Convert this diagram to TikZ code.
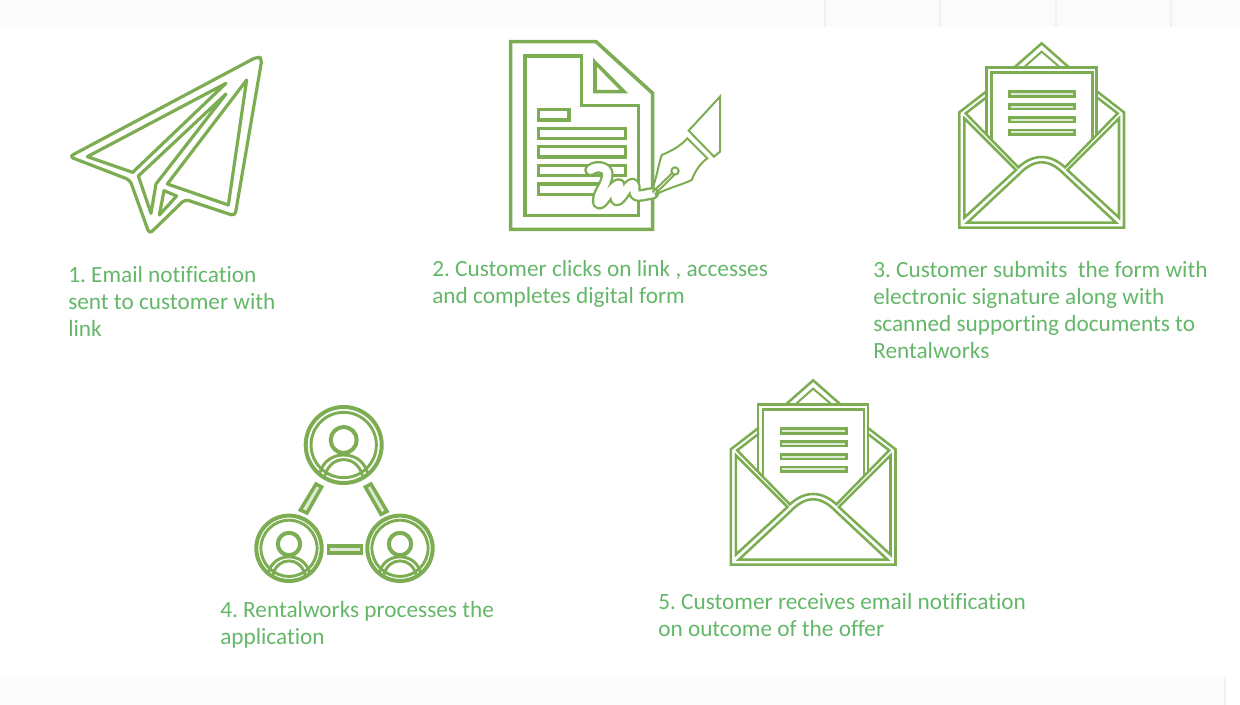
\documentclass[tikz,border=0pt]{standalone}
\usepackage{fontspec}
\setmainfont{Carlito}[Ligatures=NoCommon]
\definecolor{icon}{HTML}{7DAD52}
\definecolor{label}{HTML}{64B769}
\definecolor{strip}{HTML}{FBFBFB}
\definecolor{rule}{HTML}{F1F1F1}
\definecolor{pale}{HTML}{DDE9D2}
\tikzset{
  stepicon/.style={draw=icon,line width=2.4pt,line join=round,fill=none},
  thinicon/.style={draw=icon,line width=1.9pt,line join=miter,fill=none},
  fineicon/.style={draw=icon,line width=1.5pt,line join=miter,fill=none},
  barbox/.style={draw=icon,line width=2.5pt,fill=white},
  linkbar/.style={draw=icon,line width=2.6pt,fill=pale},
  steptext/.style={anchor=north west,inner sep=0pt,align=left,text=label,font=\fontsize{17.45}{20.25}\selectfont\frenchspacing},
}
\newcommand{\envelopeicon}[2]{%
\begin{scope}[shift={(#1,#2)},x=0.25pt,y=-0.25pt]
  \draw[thinicon] (190,100)--(275,25)--(360,100);
  \draw[fineicon] (222,97)--(275,50)--(330,97);
  \draw[thinicon] (110,300)--(110,98)--(440,98)--(440,300);
  \draw[thinicon] (125,314)--(125,112)--(428,112)--(428,314);
  \foreach \yy in {177,215,254,292}{\draw[barbox,line width=2pt,fill=pale] (178,\yy-7) rectangle (374,\yy+7);}
  \draw[thinicon] (112,167)--(28,232)--(28,578)--(522,578)--(522,232)--(438,167);
  \draw[thinicon] (112,185)--(47,235)--(205,397) .. controls (228,376) and (252,366) .. (275,366) .. controls (298,366) and (322,376) .. (345,397)--(503,235)--(438,185);
  \draw[thinicon] (43,250)--(43,548)--(198,405)--cycle;
  \draw[thinicon] (507,250)--(507,548)--(352,405)--cycle;
  \draw[thinicon] (52,563)--(207,418) .. controls (230,394) and (252,382) .. (275,382) .. controls (298,382) and (320,394) .. (343,418)--(498,563)--cycle;
\end{scope}}
\newcommand{\personicon}[3]{%
\begin{scope}[shift={(#1,#2)},x=0.25pt,y=-0.25pt,scale=#3]
  \draw[draw=icon,line width=3pt] (0,0) circle (114);
  \draw[draw=icon,line width=2.2pt] (0,0) circle (98);
  \draw[draw=icon,line width=3pt] (0,-15) circle (39);
  \draw[draw=icon,line width=2.2pt] (-72,84) .. controls (-60,45) and (-30,30) .. (0,30) .. controls (30,30) and (60,45) .. (72,84);
  \draw[draw=icon,line width=2.2pt] (-56,92) .. controls (-48,60) and (-25,44) .. (0,44) .. controls (25,44) and (48,60) .. (56,92);
\end{scope}}
\begin{document}
\begin{tikzpicture}[x=0.75pt,y=-0.75pt]
\useasboundingbox (0,0) rectangle (1240,705);
% faint strips along top and bottom
\fill[strip] (0,0) rectangle (1240,27);
\fill[strip] (0,677) rectangle (1226,705);
\foreach \xx in {825,940,1056,1171}{\draw[rule,line width=0.8pt] (\xx,0)--(\xx,27);}
\draw[rule,line width=1.2pt] (1225,677)--(1225,705);
% 1 paper plane
\begin{scope}[shift={(50,40)},x=0.25pt,y=-0.25pt]
  \draw[stepicon,rounded corners=3pt] (622,50)--(58,350)--(240,420)--(298,582)--(405,478)--(555,528)--(636,56)--cycle;
  \draw[stepicon] (528,130)--(112,350)--(248,397)--cycle;
  \draw[stepicon] (528,162)--(265,408)--(303,520)--(318,432)--cycle;
  \draw[stepicon] (342,452)--(380,468)--(328,525)--cycle;
  \draw[stepicon] (590,120)--(352,432)--(535,495)--cycle;
\end{scope}
% 2 document and pen
\begin{scope}[shift={(500,30)},x=0.25pt,y=-0.25pt]
  \draw[stepicon,line width=2.7pt,line join=miter] (32,35)--(288,35)--(458,190)--(458,598)--(32,598)--cycle;
  \draw[stepicon,line width=2.7pt,line join=miter] (75,78)--(245,78)--(245,227)--(416,227)--(416,557)--(75,557)--cycle;
  \draw[stepicon,line width=2.7pt,line join=miter] (285,97)--(372,185)--(285,185)--cycle;
  \draw[barbox] (115,238) rectangle (207,270);
  \draw[barbox] (115,295) rectangle (377,325);
  \draw[barbox] (115,350) rectangle (377,381);
  \draw[barbox] (115,406) rectangle (377,437);
  \draw[barbox] (115,462) rectangle (377,494);
  \fill[white] (302,455) rectangle (382,500);
  \draw[draw=icon,line width=9.5pt,line cap=round,line join=round] (272,420) .. controls (290,405) and (322,412) .. (322,432) .. controls (322,465) and (290,490) .. (295,518) .. controls (305,530) and (325,480) .. (352,465) .. controls (372,455) and (335,505) .. (350,510) .. controls (365,510) and (380,465) .. (398,462) .. controls (410,462) and (395,495) .. (412,497) .. controls (430,497) and (440,492) .. (458,490);
  \draw[draw=white,line width=6pt,line cap=round,line join=round] (272,420) .. controls (290,405) and (322,412) .. (322,432) .. controls (322,465) and (290,490) .. (295,518) .. controls (305,530) and (325,480) .. (352,465) .. controls (372,455) and (335,505) .. (350,510) .. controls (365,510) and (380,465) .. (398,462) .. controls (410,462) and (395,495) .. (412,497) .. controls (430,497) and (440,492) .. (458,490);
  \draw[fineicon] (456,478) .. controls (470,445) and (475,405) .. (485,375) .. controls (510,365) and (540,350) .. (562,325)--(622,385) .. controls (600,400) and (585,425) .. (575,450) .. controls (545,465) and (500,475) .. (465,495);
  \draw[fineicon] (660,200)--(566,302)--(642,380)--(660,365)--cycle;
  \draw[fineicon] (525,423) circle (11);
  \draw[fineicon] (457,487)--(515,431);
  \draw[fineicon] (465,493)--(523,435);
\end{scope}
% 3 and 5 envelopes
\envelopeicon{950}{35}
\envelopeicon{721.5}{372}
% 4 people
\personicon{343.7}{445}{1}
\personicon{289}{548.3}{0.86}
\personicon{400}{548.3}{0.86}
\begin{scope}[shift={(245,395)},x=0.25pt,y=-0.25pt]
  \draw[linkbar] (213,267)--(230,276)--(186,354)--(166,345)--cycle;
  \draw[linkbar] (378,267)--(361,276)--(408,358)--(426,349)--cycle;
  \draw[linkbar] (250,453) rectangle (349,474);
\end{scope}
% labels
\node[steptext] (t1) at (68,266) {1. Email notification\\sent to customer with\\link};
\node[steptext] (t2) at (432,260) {2. Customer clicks on link , accesses\\and completes digital form};
\node[steptext] (t3) at (873,261) {3. Customer submits\ \ the form with\\electronic signature along with\\scanned supporting documents to\\Rentalworks};
\node[steptext] (t4) at (220,601) {4. Rentalworks processes the\\application};
\node[steptext] (t5) at (658,593) {5. Customer receives email notification\\on outcome of the offer};
\end{tikzpicture}
\end{document}
